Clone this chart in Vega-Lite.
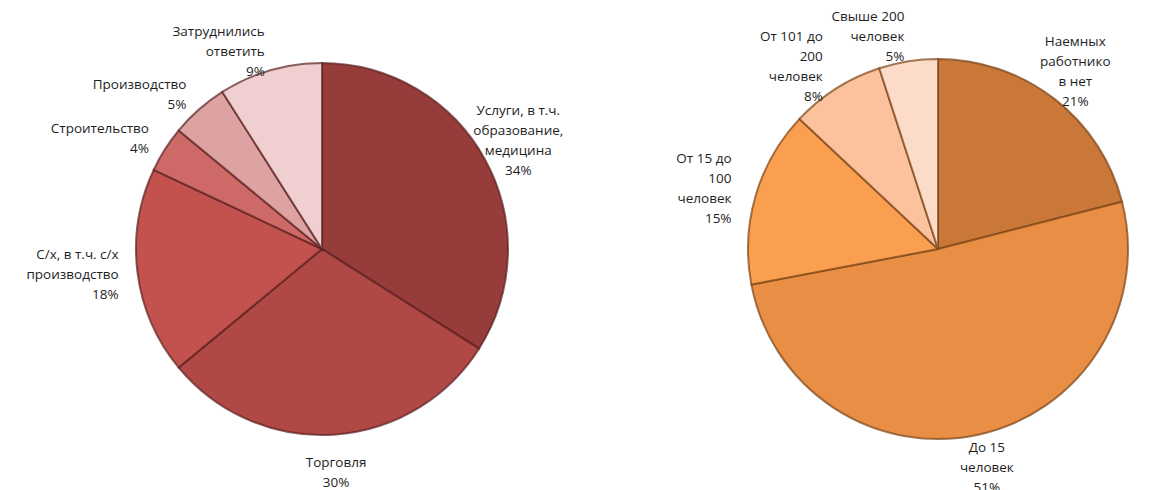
{
  "$schema": "https://vega.github.io/schema/vega-lite/v6.json",
  "padding": 0,
  "background": "white",
  "spacing": 81,
  "bounds": "flush",
  "config": {
    "view": {"stroke": null},
    "text": {"font": "Open Sans", "fontSize": 13.5, "lineHeight": 20, "fill": "#1e1e1e", "baseline": "middle"}
  },
  "hconcat": [
    {
      "width": 644,
      "height": 490,
      "data": {"values": [
        {"category": "Услуги", "label": ["Услуги, в т.ч.", "образование,", "медицина", "34%"], "value": 34, "order": 1},
        {"category": "Торговля", "label": ["Торговля", "30%"], "value": 30, "order": 2},
        {"category": "С/х", "label": ["С/х, в т.ч. с/х", "производство", "18%"], "value": 18, "order": 3},
        {"category": "Строительство", "label": ["Строительство", "4%"], "value": 4, "order": 4},
        {"category": "Производство", "label": ["Производство", "5%"], "value": 5, "order": 5},
        {"category": "Затруднились ответить", "label": ["Затруднились", "ответить", "9%"], "value": 9, "order": 6}
      ]},
      "encoding": {
        "theta": {"field": "value", "type": "quantitative", "stack": true},
        "order": {"field": "order", "type": "quantitative"}
      },
      "layer": [
        {
          "mark": {"type": "arc", "outerRadius": 186, "stroke": "#5a1f1f", "strokeWidth": 2, "strokeOpacity": 0.7},
          "encoding": {
            "color": {
              "field": "category", "type": "nominal", "legend": null,
              "scale": {
                "domain": ["Услуги", "Торговля", "С/х", "Строительство", "Производство", "Затруднились ответить"],
                "range": ["#963c3b", "#b04846", "#c3524f", "#cd6a68", "#dda2a2", "#efcfcf"]
              }
            }
          }
        },
        {
          "mark": {"type": "text", "radius": 224, "align": "center", "dy": {"expr": "-(length(datum.label)-1)*10"}},
          "encoding": {
            "text": {"condition": {"test": {"field": "category", "oneOf": ["Услуги", "Торговля"]}, "field": "label"}, "value": ""}
          }
        },
        {
          "mark": {"type": "text", "radius": 205, "align": "right", "dy": {"expr": "-(length(datum.label)-1)*10"}},
          "encoding": {
            "text": {"condition": {"test": {"field": "category", "oneOf": ["С/х", "Строительство", "Производство", "Затруднились ответить"]}, "field": "label"}, "value": ""}
          }
        }
      ]
    },
    {
      "width": 426,
      "height": 490,
      "data": {"values": [
        {"category": "Наемных работников нет", "label": ["Наемных", "работнико", "в нет", "21%"], "value": 21, "order": 1},
        {"category": "До 15 человек", "label": ["До 15", "человек", "51%"], "value": 51, "order": 2},
        {"category": "От 15 до 100 человек", "label": ["От 15 до", "100", "человек", "15%"], "value": 15, "order": 3},
        {"category": "От 101 до 200 человек", "label": ["От 101 до", "200", "человек", "8%"], "value": 8, "order": 4},
        {"category": "Свыше 200 человек", "label": ["Свыше 200", "человек", "5%"], "value": 5, "order": 5}
      ]},
      "encoding": {
        "theta": {"field": "value", "type": "quantitative", "stack": true},
        "order": {"field": "order", "type": "quantitative"}
      },
      "layer": [
        {
          "mark": {"type": "arc", "outerRadius": 190, "stroke": "#7a4316", "strokeWidth": 2, "strokeOpacity": 0.7},
          "encoding": {
            "color": {
              "field": "category", "type": "nominal", "legend": null,
              "scale": {
                "domain": ["Наемных работников нет", "До 15 человек", "От 15 до 100 человек", "От 101 до 200 человек", "Свыше 200 человек"],
                "range": ["#c9783a", "#e98e45", "#fa9e4f", "#fbc29d", "#fcdcc8"]
              }
            }
          }
        },
        {
          "mark": {"type": "text", "radius": 224, "align": "center", "dy": {"expr": "-(length(datum.label)-1)*10"}},
          "encoding": {
            "text": {"condition": {"test": {"field": "category", "oneOf": ["Наемных работников нет", "До 15 человек"]}, "field": "label"}, "value": ""}
          }
        },
        {
          "mark": {"type": "text", "radius": 215, "align": "right", "dy": {"expr": "-(length(datum.label)-1)*10"}},
          "encoding": {
            "text": {"condition": {"test": {"field": "category", "oneOf": ["От 15 до 100 человек", "От 101 до 200 человек", "Свыше 200 человек"]}, "field": "label"}, "value": ""}
          }
        }
      ]
    }
  ],
  "resolve": {"scale": {"color": "independent"}}
}
